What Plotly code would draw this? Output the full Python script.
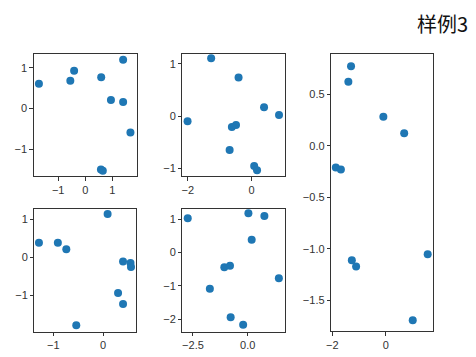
import plotly.graph_objects as go

# Data
ax1_x = [-1.71, -0.55, -0.41, 0.59, 1.40, 0.95, 1.40, 1.67, 0.58, 0.65]
ax1_y = [0.61, 0.68, 0.93, 0.77, 1.20, 0.21, 0.16, -0.59, -1.50, -1.53]

ax2_x = [-1.27, -0.41, 0.39, 0.86, -2.01, -0.62, -0.49, -0.69, 0.08, 0.17]
ax2_y = [1.11, 0.74, 0.17, 0.02, -0.10, -0.21, -0.17, -0.65, -0.96, -1.04]

ax3_x = [-1.30, -1.40, -0.09, 0.69, -1.87, -1.68, -1.27, -1.11, 1.57, 1.01]
ax3_y = [0.77, 0.62, 0.28, 0.12, -0.21, -0.23, -1.11, -1.17, -1.05, -1.69]

ax4_x = [-1.29, -0.91, -0.74, 0.09, 0.40, 0.55, 0.56, 0.30, 0.40, -0.54]
ax4_y = [0.38, 0.38, 0.21, 1.14, -0.11, -0.15, -0.26, -0.94, -1.23, -1.79]

ax5_x = [-2.74, 0.03, 0.76, 0.18, -1.07, -0.81, -1.73, 1.42, -0.78, -0.21]
ax5_y = [1.02, 1.17, 1.09, 0.38, -0.45, -0.40, -1.09, -0.78, -1.95, -2.17]

title_text = "样例3"

OFF = 8  # default page body margin
W, H = 476 - OFF, 357 - OFF
FONT = "Noto Sans CJK SC, DejaVu Sans, sans-serif"
TICKFONT = "Liberation Sans, Arial, sans-serif"
DOT = "#1f77b4"
EDGE = "#333333"

panels = [
    dict(x=ax1_x, y=ax1_y, box=(29, 133, 54, 176), xr=(-1.90, 1.90), yr=(-1.66, 1.34),
         xt=[-1, 0, 1], xtt=["−1", "0", "1"], yt=[-1, 0, 1], ytt=["−1", "0", "1"]),
    dict(x=ax2_x, y=ax2_y, box=(179.3, 282.7, 54, 176), xr=(-2.17, 1.04), yr=(-1.15, 1.19),
         xt=[-2, 0], xtt=["−2", "0"], yt=[-1, 0, 1], ytt=["−1", "0", "1"]),
    dict(x=ax3_x, y=ax3_y, box=(329.7, 432.3, 54, 331), xr=(-2.04, 1.76), yr=(-1.794, 0.888),
         xt=[-2, 0], xtt=["−2", "0"], yt=[0.5, 0.0, -0.5, -1.0, -1.5],
         ytt=["0.5", "0.0", "−0.5", "−1.0", "−1.5"]),
    dict(x=ax4_x, y=ax4_y, box=(29.7, 132.3, 209, 331.7), xr=(-1.38, 0.66), yr=(-1.96, 1.27),
         xt=[-1, 0], xtt=["−1", "0"], yt=[-1, 0, 1], ytt=["−1", "0", "1"]),
    dict(x=ax5_x, y=ax5_y, box=(179.3, 282.7, 209, 331.7), xr=(-2.98, 1.69), yr=(-2.38, 1.30),
         xt=[-2.5, 0.0], xtt=["−2.5", "0.0"], yt=[-2, -1, 0, 1], ytt=["−2", "−1", "0", "1"]),
]

fig = go.Figure()
layout = {}
for i, p in enumerate(panels, start=1):
    xa = "x" if i == 1 else f"x{i}"
    ya = "y" if i == 1 else f"y{i}"
    fig.add_trace(go.Scatter(x=p["x"], y=p["y"], mode="markers",
                             marker=dict(color=DOT, size=8, line=dict(width=0)),
                             xaxis=xa, yaxis=ya, showlegend=False, hoverinfo="skip"))
    l, r, t, b = [v - OFF for v in p["box"]]
    axis_common = dict(showline=True, mirror=True, linecolor=EDGE, linewidth=1,
                       showgrid=False, zeroline=False, ticks="outside", ticklen=3.5,
                       tickwidth=1, tickcolor=EDGE,
                       tickfont=dict(family=TICKFONT, size=11, color="#333333"))
    layout[f"xaxis{'' if i == 1 else i}"] = dict(
        domain=[l / W, r / W], range=list(p["xr"]), anchor=ya,
        tickmode="array", tickvals=p["xt"], ticktext=p["xtt"], **axis_common)
    layout[f"yaxis{'' if i == 1 else i}"] = dict(
        domain=[1 - b / H, 1 - t / H], range=list(p["yr"]), anchor=xa,
        tickmode="array", tickvals=p["yt"], ticktext=p["ytt"], **axis_common)

fig.update_layout(
    width=W, height=H, margin=dict(l=0, r=0, t=0, b=0),
    paper_bgcolor="white", plot_bgcolor="white",
    annotations=[dict(text=title_text, x=(470 - OFF) / W, y=1 - (23 - OFF) / H,
                      xref="paper", yref="paper",
                      xanchor="right", yanchor="middle", showarrow=False,
                      font=dict(family=FONT, size=20, color="#111111"))],
    **layout,
)

fig.write_html("out.html")
